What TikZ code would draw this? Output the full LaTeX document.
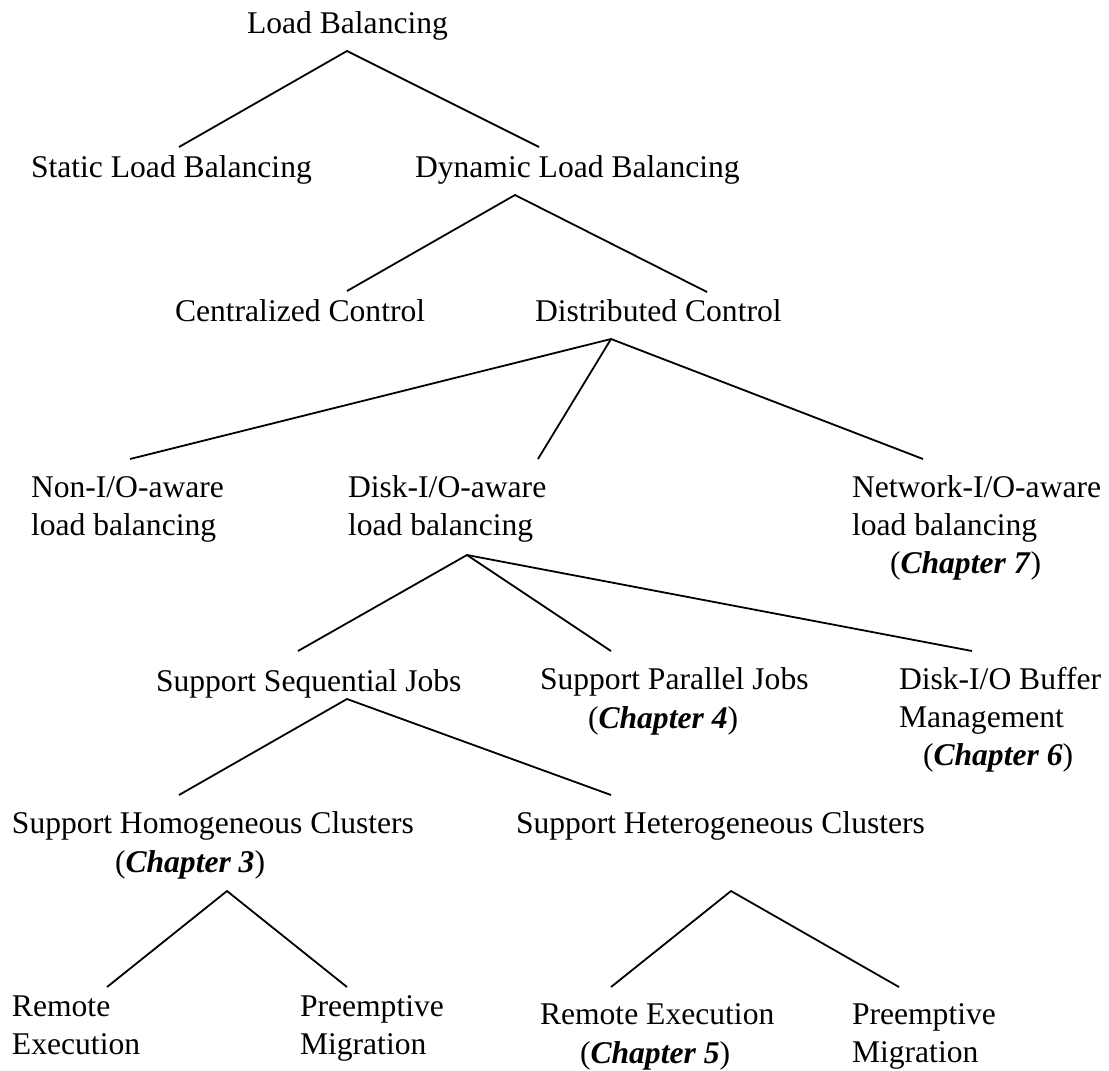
\documentclass[tikz,border=0pt]{standalone}
\usepackage{fontspec}
\setmainfont{Liberation Serif}
\begin{document}
\begin{tikzpicture}[x=1pt,y=-1pt,
  lbl/.style={anchor=base west,inner sep=0pt,outer sep=0pt,font=\fontsize{31.6}{38}\selectfont},
  conn/.style={line width=1.8pt,line join=miter,black}]
\newcommand{\chap}[1]{(\textbf{\textit{Chapter #1}})}
\useasboundingbox (0,0) rectangle (1109,1071);
% labels
\node[lbl] (lb)   at (247,33)  {Load Balancing};
\node[lbl] (slb)  at (31,177)  {Static Load Balancing};
\node[lbl] (dlb)  at (415,177) {Dynamic Load Balancing};
\node[lbl] (cc)   at (175,321) {Centralized Control};
\node[lbl] (dc)   at (535,321) {Distributed Control};
\node[lbl] (non1) at (31,497)  {Non-I/O-aware};
\node[lbl] (non2) at (31,535)  {load balancing};
\node[lbl] (dsk1) at (348,497) {Disk-I/O-aware};
\node[lbl] (dsk2) at (348,535) {load balancing};
\node[lbl] (net1) at (852,497) {Network-I/O-aware};
\node[lbl] (net2) at (852,535) {load balancing};
\node[lbl] (net3) at (890,573) {\chap{7}};
\node[lbl] (seq)  at (156,691) {Support Sequential Jobs};
\node[lbl] (par1) at (540,689) {Support Parallel Jobs};
\node[lbl] (par2) at (588,728) {\chap{4}};
\node[lbl] (buf1) at (899,689) {Disk-I/O Buffer};
\node[lbl] (buf2) at (899,727) {Management};
\node[lbl] (buf3) at (923,765) {\chap{6}};
\node[lbl] (hom1) at (12,833)  {Support Homogeneous Clusters};
\node[lbl] (hom2) at (115,872) {\chap{3}};
\node[lbl] (het)  at (516,833) {Support Heterogeneous Clusters};
\node[lbl] (rea1) at (12,1016) {Remote};
\node[lbl] (rea2) at (12,1054) {Execution};
\node[lbl] (pma1) at (300,1016) {Preemptive};
\node[lbl] (pma2) at (300,1054) {Migration};
\node[lbl] (reb1) at (540,1024) {Remote Execution};
\node[lbl] (reb2) at (580,1063) {\chap{5}};
\node[lbl] (pmb1) at (852,1024) {Preemptive};
\node[lbl] (pmb2) at (852,1062) {Migration};
% connector points
\coordinate (lbA) at (347,51);  \coordinate (slbT) at (179,147); \coordinate (dlbT) at (539,147);
\coordinate (dlbA) at (515,195); \coordinate (ccT) at (347,291);  \coordinate (dcT) at (707,292);
\coordinate (dcA) at (611,339);  \coordinate (nonT) at (130,459); \coordinate (dskT) at (538,459); \coordinate (netT) at (923,459);
\coordinate (dskA) at (467,555); \coordinate (seqT) at (298,651); \coordinate (parT) at (611,651); \coordinate (bufT) at (972,651);
\coordinate (seqA) at (347,699); \coordinate (homT) at (179,795); \coordinate (hetT) at (611,795);
\coordinate (homA) at (227,891); \coordinate (reaT) at (107,987); \coordinate (pmaT) at (347,987);
\coordinate (hetA) at (731,891); \coordinate (rebT) at (611,987); \coordinate (pmbT) at (899,987);
% connectors
\draw[conn] (slbT) -- (lbA) -- (dlbT);
\draw[conn] (ccT) -- (dlbA) -- (dcT);
\draw[conn] (nonT) -- (dcA) -- (netT);
\draw[conn] (dcA) -- (dskT);
\draw[conn] (seqT) -- (dskA) -- (bufT);
\draw[conn] (dskA) -- (parT);
\draw[conn] (homT) -- (seqA) -- (hetT);
\draw[conn] (reaT) -- (homA) -- (pmaT);
\draw[conn] (rebT) -- (hetA) -- (pmbT);
\end{tikzpicture}
\end{document}
